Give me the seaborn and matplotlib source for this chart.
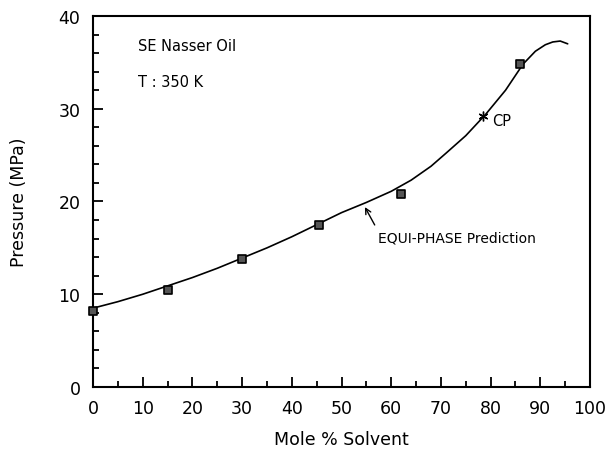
import matplotlib.pyplot as plt
import seaborn as sns
import pandas as pd

# measured points
solvent = [0, 15, 30, 45.5, 62, 86]
pressure = [8.2, 10.5, 13.8, 17.5, 20.8, 34.8]

# EQUI-PHASE prediction curve
curve_x = [0, 5, 10, 15, 20, 25, 30, 35, 40, 45, 50, 55, 60, 64, 68, 71, 75, 79, 83, 86.5, 89, 91, 92.5, 94, 95.5]
curve_y = [8.5, 9.2, 10.0, 10.9, 11.8, 12.8, 13.9, 15.0, 16.2, 17.5, 18.8, 19.9, 21.1, 22.3, 23.8, 25.2, 27.1, 29.4, 32.0, 34.8, 36.2, 36.9, 37.2, 37.3, 37.0]

cp_x, cp_y = 78.5, 29.2

sns.set_style("ticks")
plt.rcParams["font.family"] = ["DejaVu Sans"]
for k in ["text.color", "axes.labelcolor", "xtick.color", "ytick.color", "axes.edgecolor"]:
    plt.rcParams[k] = "black"

fig = plt.figure(figsize=(6.14, 4.52), dpi=100)
ax = fig.add_axes([0.1515, 0.1416, 0.8095, 0.8208])

sns.lineplot(data=pd.DataFrame({"x": curve_x, "y": curve_y}), x="x", y="y",
             ax=ax, color="black", linewidth=1.2, sort=False)
sns.scatterplot(data=pd.DataFrame({"x": solvent, "y": pressure}), x="x", y="y",
                ax=ax, marker="s", s=30, color="#555555", edgecolor="black",
                linewidth=1.2, zorder=3, clip_on=False)
ax.plot([cp_x], [cp_y], marker=(6, 2, 0), color="black", markersize=7, mew=1)

ax.text(80.3, 28.7, "CP", fontsize=10.5, va="center")
ax.text(9, 36.8, "SE Nasser Oil", fontsize=10.5, va="center")
ax.text(9, 32.9, "T : 350 K", fontsize=10.5, va="center")
ax.annotate("EQUI-PHASE Prediction", xy=(54.7, 19.4), xytext=(57.3, 16.1),
            fontsize=10, va="center",
            arrowprops=dict(arrowstyle="->", color="black", lw=1,
                            shrinkA=2, shrinkB=0,
                            relpos=(0.0, 1.0)))

ax.set_xlim(0, 100)
ax.set_ylim(0, 40)
ax.set_xticks(range(0, 101, 10))
ax.set_xticks(range(5, 100, 10), minor=True)
ax.set_yticks(range(0, 41, 10))
ax.set_yticks([y for y in range(2, 40, 2) if y % 10], minor=True)
ax.tick_params(which="both", direction="in", width=1.3, labelsize=12.5, pad=9)
ax.tick_params(which="major", length=7)
ax.tick_params(which="minor", length=4)
ax.set_xlabel("Mole % Solvent", fontsize=12.5, labelpad=9)
ax.set_ylabel("Pressure (MPa)", fontsize=12.5, labelpad=22)
for sp in ax.spines.values():
    sp.set_linewidth(1.5)
    sp.set_visible(True)

fig.savefig("out.png", dpi=100)
